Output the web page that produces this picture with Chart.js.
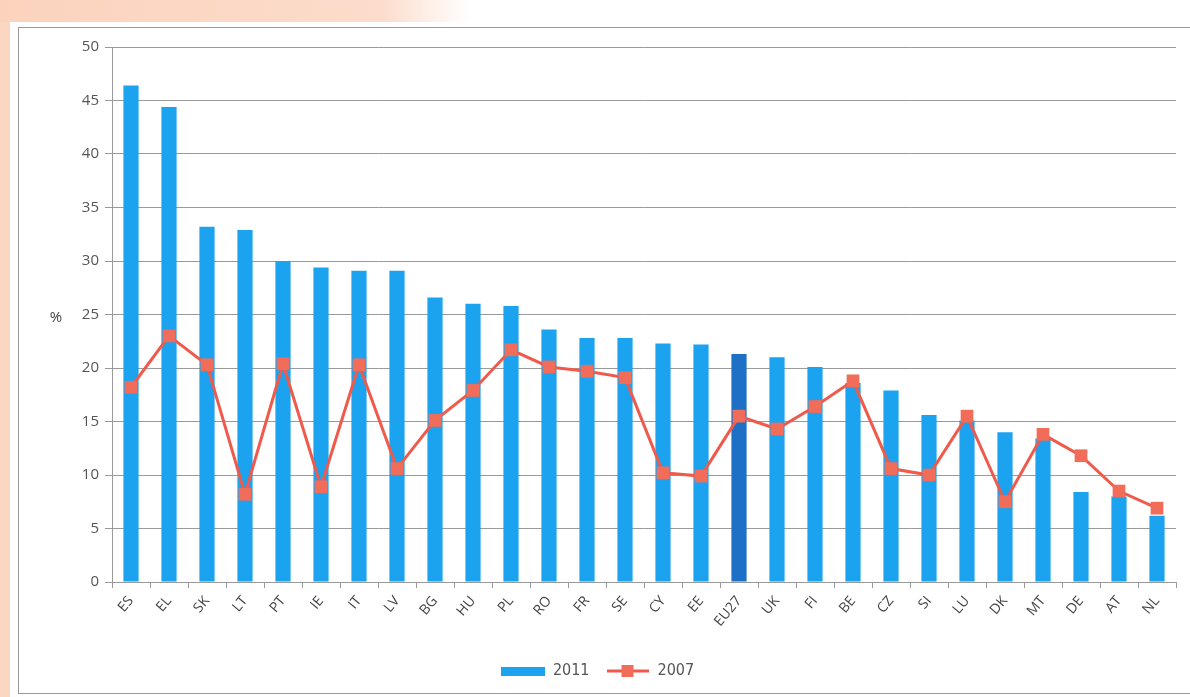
<!DOCTYPE html>
<html>
<head>
<meta charset="utf-8">
<script src="https://cdn.jsdelivr.net/npm/chart.js@4"></script>
<style>
  html, body { margin: 0; padding: 0; }
  body { width: 1190px; height: 697px; background: #ffffff; position: relative; overflow: hidden; }
  #leftStrip { position: absolute; left: 0; top: 0; width: 10px; height: 697px; background: #fbd7c3; }
  #topStrip { position: absolute; left: 0; top: 0; width: 1190px; height: 22px; background: linear-gradient(to right, #fbd3bd 0px, #fcdccb 380px, #ffffff 470px, #ffffff 1190px); }
  #frame { position: absolute; left: 18px; top: 27px; width: 1180px; height: 667px; border: 1px solid #9a9a9a; box-sizing: border-box; background: #fff; }
  #wrap { position: absolute; left: 19px; top: 28px; width: 1171px; height: 665px; }
</style>
</head>
<body>
<div id="leftStrip"></div>
<div id="topStrip"></div>
<div id="frame"></div>
<div id="wrap"><canvas id="c"></canvas></div>
<script>
const categories = ['ES','EL','SK','LT','PT','IE','IT','LV','BG','HU','PL','RO','FR','SE','CY','EE','EU27','UK','FI','BE','CZ','SI','LU','DK','MT','DE','AT','NL'];
const values2011 = [46.4,44.4,33.2,32.9,30.0,29.4,29.1,29.1,26.6,26.0,25.8,23.6,22.8,22.8,22.3,22.2,21.3,21.0,20.1,18.6,17.9,15.6,15.1,14.0,13.4,8.4,8.0,6.2];
const values2007 = [18.2,23.0,20.3,8.2,20.4,8.9,20.3,10.6,15.1,17.9,21.7,20.1,19.7,19.1,10.2,9.9,15.5,14.3,16.4,18.8,10.6,10.0,15.5,7.5,13.8,11.8,8.5,6.9];
const yTicks = [0,5,10,15,20,25,30,35,40,45,50];
const seriesNames = ['2011','2007'];

const BLUE = '#1ba3ef';
const BLUE_DARK = '#1e6fc6';
const RED_LINE = '#ef5a4c';
const RED_PT = '#f26c5a';

function legendBar() {
  const c = document.createElement('canvas');
  c.width = 44; c.height = 9;
  const x = c.getContext('2d');
  x.fillStyle = BLUE; x.fillRect(0, 0, 44, 9);
  return c;
}
function legendLine() {
  const c = document.createElement('canvas');
  c.width = 42; c.height = 14;
  const x = c.getContext('2d');
  x.strokeStyle = RED_LINE; x.lineWidth = 3;
  x.beginPath(); x.moveTo(0, 7); x.lineTo(42, 7); x.stroke();
  x.fillStyle = RED_PT; x.fillRect(15, 1, 12, 12);
  return c;
}

const percentPlugin = {
  id: 'percent',
  afterDraw(chart) {
    const y = chart.scales.y;
    const ctx = chart.ctx;
    ctx.save();
    ctx.fillStyle = '#444';
    ctx.font = '15px "Open Sans", Lato, sans-serif';
    ctx.textAlign = 'center';
    ctx.textBaseline = 'middle';
    ctx.fillText('%', y.left + 37, y.getPixelForValue(25) + 3);
    ctx.restore();
  }
};

new Chart(document.getElementById('c'), {
  data: {
    labels: categories,
    datasets: [
      {
        type: 'line',
        label: seriesNames[1],
        data: values2007,
        borderColor: RED_LINE,
        borderWidth: 3,
        backgroundColor: RED_PT,
        pointStyle: 'rect',
        pointRadius: 9,
        pointBackgroundColor: RED_PT,
        pointBorderColor: RED_PT,
        pointBorderWidth: 0,
        tension: 0,
        order: 0
      },
      {
        type: 'bar',
        label: seriesNames[0],
        data: values2011,
        backgroundColor: categories.map(c => c === 'EU27' ? BLUE_DARK : BLUE),
        barPercentage: 0.4,
        categoryPercentage: 1.0,
        order: 1
      }
    ]
  },
  options: {
    responsive: true,
    maintainAspectRatio: false,
    animation: false,
    layout: { padding: { top: 19, right: 14, bottom: 4, left: 0 } },
    plugins: {
      tooltip: { enabled: false },
      legend: {
        position: 'bottom',
        labels: {
          usePointStyle: true,
          pointStyleWidth: 44,
          padding: 16,
          color: '#555',
          font: { size: 16, family: '"Liberation Sans Narrow", "DejaVu Sans Condensed", "Roboto Condensed", sans-serif' },
          generateLabels(chart) {
            return [
              { text: seriesNames[0], pointStyle: legendBar(), datasetIndex: 1, fillStyle: BLUE, strokeStyle: BLUE, lineWidth: 0, hidden: false, fontColor: '#555' },
              { text: seriesNames[1], pointStyle: legendLine(), datasetIndex: 0, fillStyle: RED_PT, strokeStyle: RED_LINE, lineWidth: 0, hidden: false, fontColor: '#555' }
            ];
          }
        }
      }
    },
    scales: {
      x: {
        offset: true,
        grid: {
          display: true,
          offset: true,
          drawOnChartArea: false,
          drawTicks: true,
          tickLength: 6,
          color: '#999'
        },
        border: { display: true, color: '#999', width: 1 },
        ticks: {
          color: '#444',
          font: { size: 14, family: '"Open Sans", Lato, sans-serif' },
          minRotation: 50,
          maxRotation: 50,
          autoSkip: false,
          padding: 5
        },
        afterFit(scale) { scale.height = 65; }
      },
      y: {
        min: 0,
        max: 50,
        afterBuildTicks(scale) { scale.ticks = yTicks.map(v => ({ value: v })); },
        grid: {
          color: '#9a9a9a',
          lineWidth: 1,
          drawTicks: true,
          tickLength: 7
        },
        border: { display: true, color: '#999', width: 1 },
        ticks: {
          color: '#555',
          font: { size: 15, family: '"Open Sans", Lato, sans-serif' },
          padding: 6
        },
        afterFit(scale) { scale.width = 93; }
      }
    }
  },
  plugins: [percentPlugin]
});
</script>
</body>
</html>
